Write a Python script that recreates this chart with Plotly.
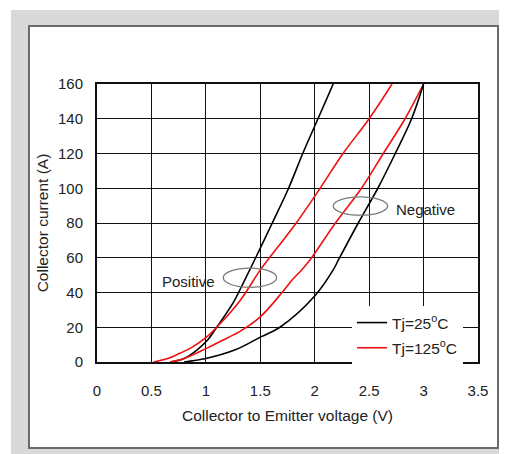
import plotly.graph_objects as go

# ---- data ----
v_25_a = [0.68, 0.80, 0.92, 1.02, 1.10, 1.25, 1.34, 1.45, 1.61, 1.76, 1.89, 2.03, 2.17]
i_25_a = [0, 2, 7, 13, 20, 34, 45, 59, 80, 100, 120, 140, 160]

v_125_a = [0.52, 0.65, 0.76, 0.86, 1.00, 1.10, 1.31, 1.50, 1.56, 1.83, 2.05, 2.26, 2.50, 2.71]
i_125_a = [0, 2, 5, 8, 14, 20, 35, 53, 58, 80, 100, 120, 140, 160]

v_125_b = [0.67, 0.80, 1.01, 1.20, 1.31, 1.50, 1.70, 1.79, 1.88, 1.96, 2.19, 2.43, 2.63, 2.83, 3.00]
i_125_b = [0, 2, 8, 14, 17.5, 26, 40, 47, 53, 59, 80, 100, 120, 140, 160]

v_25_b = [0.80, 1.00, 1.27, 1.51, 1.68, 2.00, 2.17, 2.22, 2.40, 2.58, 2.74, 2.89, 3.00]
i_25_b = [0, 2, 7, 14.6, 20, 38, 53, 59, 80, 100, 120, 140, 160]

x_ticks = [0, 0.5, 1, 1.5, 2, 2.5, 3, 3.5]
x_ticklabels = ["0", "0.5", "1", "1.5", "2", "2.5", "3", "3.5"]
y_ticks = [0, 20, 40, 60, 80, 100, 120, 140, 160]

label_25 = "Tj=25<sup>o</sup>C"
label_125 = "Tj=125<sup>o</sup>C"

FONT = "Liberation Sans, Arial, sans-serif"
TXT = "#222222"

fig = go.Figure()
fig.add_trace(go.Scatter(x=v_25_a, y=i_25_a, mode="lines", name=label_25,
                         line=dict(color="black", width=1.6, shape="spline"),
                         legendgroup="25"))
fig.add_trace(go.Scatter(x=v_125_a, y=i_125_a, mode="lines", name=label_125,
                         line=dict(color="#ee1111", width=1.6, shape="spline"),
                         legendgroup="125"))
fig.add_trace(go.Scatter(x=v_125_b, y=i_125_b, mode="lines", name=label_125,
                         line=dict(color="#ee1111", width=1.6, shape="spline"),
                         legendgroup="125", showlegend=False))
fig.add_trace(go.Scatter(x=v_25_b, y=i_25_b, mode="lines", name=label_25,
                         line=dict(color="black", width=1.6, shape="spline"),
                         legendgroup="25", showlegend=False))

# page body has an 8px margin: figure is placed at (8, 8) on screen
OFF = 8
W, H = 507 - OFF, 454 - OFF
L, R, T, B = 97 - OFF, 507 - 478, 84 - OFF, 454 - 362
pw, ph = W - L - R, H - T - B

def px_x(p):
    return (p - OFF - L) / pw

def px_y(p):
    return (H - B - (p - OFF)) / ph

shapes = [
    # gray outer background
    dict(type="rect", xref="paper", yref="paper", layer="below",
         x0=px_x(11), x1=px_x(507), y0=px_y(454), y1=px_y(10),
         fillcolor="#d9d9d9", line=dict(width=0)),
    # white panel
    dict(type="rect", xref="paper", yref="paper", layer="below",
         x0=px_x(29), x1=px_x(498), y0=px_y(448), y1=px_y(26),
         fillcolor="white", line=dict(color="#6a6a6a", width=2)),
    # ellipses
    dict(type="circle", xref="x", yref="y", x0=1.16, x1=1.65, y0=43, y1=54,
         line=dict(color="#7a7a7a", width=1.3)),
    dict(type="circle", xref="x", yref="y", x0=2.17, x1=2.67, y0=84.5, y1=95,
         line=dict(color="#7a7a7a", width=1.3)),
]

annotations = [
    dict(x=0.845, y=46.5, xref="x", yref="y", text="Positive", showarrow=False,
         font=dict(family=FONT, size=15, color=TXT)),
    dict(x=3.02, y=88, xref="x", yref="y", text="Negative", showarrow=False,
         font=dict(family=FONT, size=15, color=TXT)),
]

fig.update_layout(
    width=W, height=H,
    margin=dict(l=L, r=R, t=T, b=B, autoexpand=False),
    paper_bgcolor="white", plot_bgcolor="white",
    font=dict(family=FONT, size=15, color=TXT),
    shapes=shapes, annotations=annotations,
    showlegend=True,
    legend=dict(x=px_x(352), y=px_y(306), xanchor="left", yanchor="top",
                bgcolor="white", borderwidth=0,
                font=dict(family=FONT, size=15.5, color=TXT),
                traceorder="grouped", tracegroupgap=2),
)

fig.update_xaxes(range=[0, 3.5], tickvals=x_ticks, ticktext=x_ticklabels,
                 showgrid=True, gridcolor="#111111", gridwidth=1,
                 showline=True, linecolor="#111111", linewidth=2, mirror=True,
                 zeroline=False, ticks="", ticklabelstandoff=14,
                 tickfont=dict(family=FONT, size=15, color=TXT),
                 title=dict(text="Collector to Emitter voltage (V)", standoff=12,
                            font=dict(family=FONT, size=15.5, color=TXT)),
                 automargin=False, fixedrange=True)
fig.update_yaxes(range=[0, 160], tickvals=y_ticks,
                 showgrid=True, gridcolor="#111111", gridwidth=1,
                 showline=True, linecolor="#111111", linewidth=2, mirror=True,
                 zeroline=False, ticks="", ticklabelstandoff=9,
                 tickfont=dict(family=FONT, size=15, color=TXT),
                 title=dict(text="Collector current (A)", standoff=6,
                            font=dict(family=FONT, size=15.5, color=TXT)),
                 automargin=False, fixedrange=True)

fig.write_html("out.html")
